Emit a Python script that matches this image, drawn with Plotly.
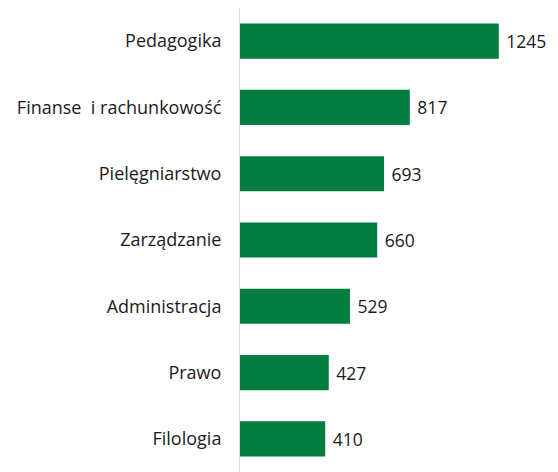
import plotly.graph_objects as go

kierunki = ['Pedagogika', 'Finanse  i rachunkowość', 'Pielęgniarstwo', 'Zarządzanie',
            'Administracja', 'Prawo', 'Filologia']
liczba = [1245, 817, 693, 660, 529, 427, 410]

fig = go.Figure(go.Bar(
    x=liczba,
    y=kierunki,
    orientation='h',
    marker=dict(color='#047D41', line=dict(width=0)),
    text=liczba,
    texttemplate=' %{x}',
    textposition='outside',
    textfont=dict(size=17.5, color='#1a1a1a'),
    cliponaxis=False,
))

# strona ma 8px marginesu body, wiec figura jest o 8px mniejsza
fig.update_layout(
    width=550, height=464,
    margin=dict(l=232, r=0, t=0, b=0),
    paper_bgcolor='white', plot_bgcolor='white',
    font=dict(family='Open Sans, sans-serif', size=18, color='#1a1a1a'),
    bargap=0.47,
    showlegend=False,
    xaxis=dict(range=[0, 1530], visible=False),
    yaxis=dict(autorange='reversed', showline=True, linecolor='#d9d9d9', linewidth=1,
               showgrid=False, ticks='', ticklabelstandoff=14, automargin=False),
)

fig.write_html("out.html")
